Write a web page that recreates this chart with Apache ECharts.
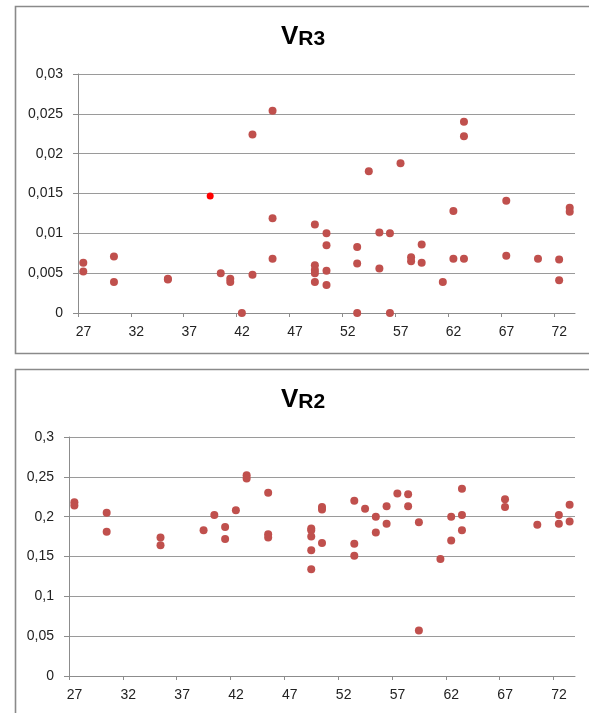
<!DOCTYPE html>
<html>
<head>
<meta charset="utf-8">
<script src="https://cdn.jsdelivr.net/npm/echarts@6/dist/echarts.min.js"></script>
<style>
html,body{margin:0;padding:0;background:#fff;}
#c{width:589px;height:713px;}
</style>
</head>
<body>
<div id="c"></div>
<script>
// ---- data ----
var xTicks = [27, 32, 37, 42, 47, 52, 57, 62, 67, 72];
var yTicksR3 = [0, 0.005, 0.01, 0.015, 0.02, 0.025, 0.03];
var yTicksR2 = [0, 0.05, 0.1, 0.15, 0.2, 0.25, 0.3];

var xR3 = [27.5, 27.5, 30.4, 30.4, 35.5, 35.5, 40.5, 41.4, 41.4, 42.5, 43.5, 43.5,
           45.4, 45.4, 45.4, 49.4, 49.4, 49.4, 49.4, 49.4, 50.5, 50.5, 50.5, 50.5,
           53.4, 53.4, 53.4, 54.5, 55.5, 55.5, 56.5, 56.5, 57.5, 58.5, 58.5, 59.5, 59.5,
           61.5, 62.5, 62.5, 63.5, 63.5, 63.5, 67.5, 67.5, 70.5, 72.5, 72.5, 73.5, 73.5];
var yR3 = [0.0063, 0.0052, 0.0071, 0.0039, 0.0043, 0.0042, 0.0050, 0.0043, 0.0039, 0.0000, 0.0224, 0.0048,
           0.0254, 0.0119, 0.0068, 0.0111, 0.0060, 0.0054, 0.0050, 0.0039, 0.0100, 0.0085, 0.0053, 0.0035,
           0.0083, 0.0062, 0.0000, 0.0178, 0.0101, 0.0056, 0.0100, 0.0000, 0.0188, 0.0070, 0.0065, 0.0086, 0.0063,
           0.0039, 0.0128, 0.0068, 0.0240, 0.0222, 0.0068, 0.0141, 0.0072, 0.0068, 0.0067, 0.0041, 0.0132, 0.0127];
var xR3Highlight = [39.5];
var yR3Highlight = [0.0147];

var xR2 = [27.5, 27.5, 30.5, 30.5, 35.5, 35.5, 39.5, 40.5, 41.5, 41.5, 42.5, 43.5, 43.5,
           45.5, 45.5, 45.5, 49.5, 49.5, 49.5, 49.5, 49.5, 50.5, 50.5, 50.5,
           53.5, 53.5, 53.5, 54.5, 55.5, 55.5, 56.5, 56.5, 57.5, 58.5, 58.5, 59.5, 59.5,
           61.5, 62.5, 62.5, 63.5, 63.5, 63.5, 67.5, 67.5, 70.5, 72.5, 72.5, 73.5, 73.5];
var yR2 = [0.218, 0.214, 0.205, 0.181, 0.174, 0.164, 0.183, 0.202, 0.187, 0.172, 0.208, 0.252, 0.248,
           0.230, 0.178, 0.174, 0.185, 0.183, 0.175, 0.158, 0.134, 0.212, 0.209, 0.167,
           0.220, 0.166, 0.151, 0.210, 0.200, 0.180, 0.213, 0.191, 0.229, 0.228, 0.213, 0.193, 0.057,
           0.147, 0.200, 0.170, 0.235, 0.202, 0.183, 0.222, 0.212, 0.190, 0.202, 0.191, 0.215, 0.194];

function pairs(xs, ys) { return xs.map(function (x, i) { return [x, ys[i]]; }); }
function comma(v) { return String(+v.toFixed(4)).replace('.', ','); }

var FONT = 'Liberation Sans';
var markerColor = '#C0504D';

function xAxis(gridIndex) {
  return {
    type: 'value', gridIndex: gridIndex, min: 27, max: 74,
    axisLine: { show: true, lineStyle: { color: '#8c8c8c', width: 1 } },
    axisTick: { show: true, inside: false, length: 4, customValues: xTicks, lineStyle: { color: '#8c8c8c' } },
    axisLabel: { customValues: xTicks, fontFamily: FONT, fontSize: 14, color: '#222', margin: 12,
                 padding: [0, 0, 0, 11] },
    splitLine: { show: false }
  };
}
function yAxis(gridIndex, max, interval) {
  return {
    type: 'value', gridIndex: gridIndex, min: 0, max: max, interval: interval,
    axisLine: { show: true, lineStyle: { color: '#8c8c8c', width: 1 } },
    axisTick: { show: true, inside: false, length: 5, lineStyle: { color: '#8c8c8c' } },
    axisLabel: { fontFamily: FONT, fontSize: 14, color: '#222', margin: 15, formatter: comma },
    splitLine: { show: true, lineStyle: { color: '#9a9a9a', width: 1 } }
  };
}
function titleOpt(sub, top) {
  return {
    text: '{v|V}{r|' + sub + '}', left: 281, top: top, padding: 0,
    textStyle: {
      rich: {
        v: { fontFamily: FONT, fontWeight: 'bold', fontSize: 26, color: '#000', verticalAlign: 'bottom' },
        r: { fontFamily: FONT, fontWeight: 'bold', fontSize: 21, color: '#000', verticalAlign: 'bottom' }
      }
    }
  };
}

var chart = echarts.init(document.getElementById('c'), null, { renderer: 'canvas' });
chart.setOption({
  backgroundColor: '#fff',
  animation: false,
  title: [titleOpt('R3', 24), titleOpt('R2', 387)],
  graphic: [
    { type: 'rect', shape: { x: 15.5, y: 6.5, width: 620, height: 347 },
      style: { fill: 'none', stroke: '#8a8a8a', lineWidth: 1.6 }, silent: true, z: -1 },
    { type: 'rect', shape: { x: 15.5, y: 369.5, width: 620, height: 400 },
      style: { fill: 'none', stroke: '#8a8a8a', lineWidth: 1.6 }, silent: true, z: -1 }
  ],
  grid: [
    { left: 78, top: 74, width: 497, height: 239 },
    { left: 69, top: 437, width: 506, height: 239 }
  ],
  xAxis: [xAxis(0), xAxis(1)],
  yAxis: [yAxis(0, 0.03, 0.005), yAxis(1, 0.3, 0.05)],
  series: [
    { type: 'scatter', xAxisIndex: 0, yAxisIndex: 0, symbolSize: 8,
      itemStyle: { color: markerColor, opacity: 1 }, data: pairs(xR3, yR3) },
    { type: 'scatter', xAxisIndex: 0, yAxisIndex: 0, symbolSize: 7,
      itemStyle: { color: '#FF0000', opacity: 1 }, data: pairs(xR3Highlight, yR3Highlight) },
    { type: 'scatter', xAxisIndex: 1, yAxisIndex: 1, symbolSize: 8,
      itemStyle: { color: markerColor, opacity: 1 }, data: pairs(xR2, yR2) }
  ]
});
</script>
</body>
</html>
